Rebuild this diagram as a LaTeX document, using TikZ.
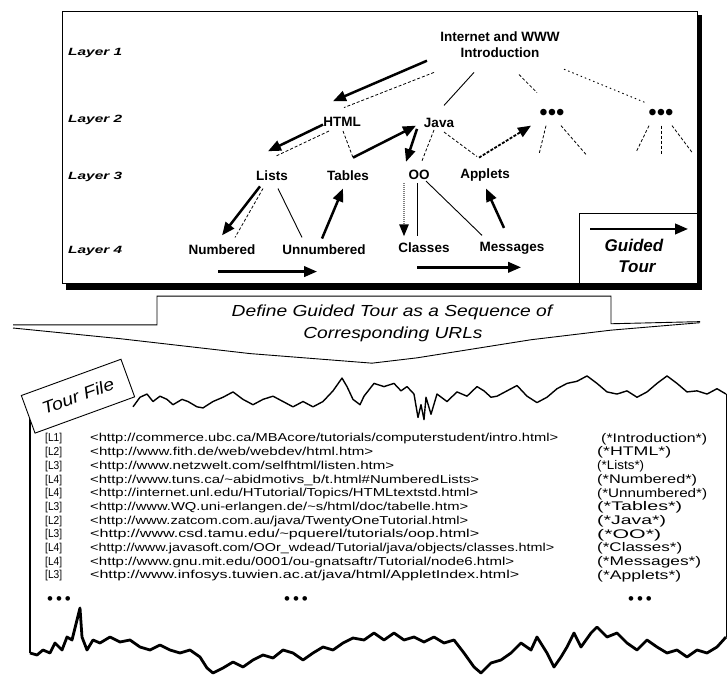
\documentclass[tikz,border=0pt]{standalone}
\usepackage{fontspec}
\setmainfont{Liberation Sans}
\usepackage{graphicx}
\usetikzlibrary{arrows.meta,calc}
\newcommand\tourrow[8]{%
  \node[rowtxt] (l#1) at (45,#2) {\resizebox{17pt}{\height}{[#3]}};
  \node[rowtxt] (u#1) at (90,#2) {\resizebox{#5pt}{\height}{#4}};
  \node[rowtxt, font=\fontsize{12.5}{13}\selectfont] (c#1) at (#8,#2) {\resizebox{#7pt}{\height}{#6}};
}
\begin{document}
\begin{tikzpicture}[x=1pt,y=-1pt,
  lbl/.style={font=\fontsize{13.5}{15}\selectfont\bfseries, inner sep=1pt},
  layerlbl/.style={anchor=west, inner sep=0pt, font=\fontsize{10.5}{12}\selectfont\bfseries\itshape},
  tour/.style={line width=2.5pt, -{Triangle[length=13pt,width=10.5pt]}},
  tree/.style={line width=0.8pt, dash pattern=on 3pt off 2pt},
  treesolid/.style={line width=0.9pt},
  dotline/.style={line width=0.9pt, dash pattern=on 1.5pt off 3pt},
  rowtxt/.style={anchor=west, inner sep=0pt, font=\fontsize{11.5}{12}\selectfont},
  torn/.style={line width=1.4pt, line join=round},
  dotsn/.style={inner sep=0pt, font=\fontsize{24}{24}\selectfont},
  smalldots/.style={inner sep=0pt, font=\fontsize{17}{17}\selectfont}
]
\useasboundingbox (0,0) rectangle (728,685);

\begin{scope}[y=-1.065pt]
% ---------- top box ----------
\fill (696,14) rectangle (702,272);
\fill (66,266) rectangle (702,272);
\draw[line width=0.9pt, fill=white] (62,11) rectangle (697,266);
\draw[line width=0.9pt] (579,200) rectangle (697,266);

\node[layerlbl] (lay1) at (68,50) {\resizebox{54pt}{\height}{Layer 1}};
\node[layerlbl] (lay2) at (68,113) {\resizebox{54pt}{\height}{Layer 2}};
\node[layerlbl] (lay3) at (68,166) {\resizebox{54pt}{\height}{Layer 3}};
\node[layerlbl] (lay4) at (68,236) {\resizebox{54pt}{\height}{Layer 4}};

\node[lbl, align=center, font=\fontsize{13.5}{16}\selectfont\bfseries] (intro) at (500,42) {Internet and WWW\\Introduction};
\node[lbl] (html) at (342,114) {HTML};
\node[lbl] (java) at (439,115) {Java};
\node[dotsn] (d1) at (552,108) {•••};
\node[dotsn] (d2) at (661,108) {•••};
\node[lbl] (lists) at (272,165) {Lists};
\node[lbl] (tables) at (348,165) {Tables};
\node[lbl] (oo) at (419,164) {OO};
\node[lbl] (applets) at (485,164) {Applets};
\node[lbl] (numbered) at (222,234) {Numbered};
\node[lbl] (unnumbered) at (324,234) {Unnumbered};
\node[lbl] (classes) at (424,233) {Classes};
\node[lbl] (messages) at (512,233) {Messages};

% tree edges
\draw[tree] ([shift={(-66,26)}]intro.center) -- ([shift={(2,-13)}]html.center);
\draw[treesolid] ([shift={(-26,26)}]intro.center) -- ([shift={(5,-16)}]java.center);
\draw[tree] ([shift={(19,28)}]intro.center) -- ([shift={(-15,-21)}]d1.center);
\draw[dotline] ([shift={(64,23)}]intro.center) -- ([shift={(-14,-11)}]d2.center);
\draw[tree] ([shift={(-13,9)}]html.center) -- ([shift={(3,-18)}]lists.center);
\draw[tree] ([shift={(1,9)}]html.center) -- ([shift={(5,-17)}]tables.center);
\draw[tree] ([shift={(-5,7)}]java.center) -- ([shift={(3,-13)}]oo.center);
\draw[tree] ([shift={(5,9)}]java.center) -- ([shift={(-8,-17)}]applets.center);
\draw[tree] ([shift={(-9,12)}]lists.center) -- ([shift={(13,-11)}]numbered.center);
\draw[treesolid] ([shift={(6,12)}]lists.center) -- ([shift={(-22,-11)}]unnumbered.center);
\draw[treesolid] ([shift={(-2,8)}]oo.center) -- ([shift={(-7,-11)}]classes.center);
\draw[treesolid] ([shift={(7,6)}]oo.center) -- ([shift={(-30,-12)}]messages.center);
% unexpanded subtrees
\coordinate (d1a) at (539,145);
\coordinate (d1b) at (586,145);
\coordinate (d2a) at (636,143);
\coordinate (d2b) at (661,145);
\coordinate (d2c) at (692,143);
\draw[tree] ([shift={(-6,10)}]d1.center) -- (d1a);
\draw[tree] ([shift={(9,10)}]d1.center) -- (d1b);
\draw[tree] ([shift={(-12,10)}]d2.center) -- (d2a);
\draw[tree] ([shift={(0,10)}]d2.center) -- (d2b);
\draw[tree] ([shift={(11,10)}]d2.center) -- (d2c);

% guided tour arrows
\draw[tour] ([shift={(-73,15)}]intro.center) -- ([shift={(-9,-19)}]html.center);
\draw[tour] ([shift={(-19,3)}]html.center) -- ([shift={(-4,-23)}]lists.center);
\draw[tour] ([shift={(-12,10)}]lists.center) -- ([shift={(0,-13)}]numbered.center);
\draw[tour] ([shift={(-4,21)}]numbered.center) -- ([shift={(-7,21)}]unnumbered.center);
\draw[tour] ([shift={(-2,-10)}]unnumbered.center) -- ([shift={(-5,12)}]tables.center);
\draw[tour] ([shift={(5,-17)}]tables.center) -- ([shift={(-23,3)}]java.center);
\draw[tour] ([shift={(-22,6)}]java.center) -- ([shift={(-13,-12)}]oo.center);
\draw[line width=2.4pt, draw=gray, dash pattern=on 1pt off 1pt, -{Triangle[length=12pt,width=9pt,color=black]}] ([shift={(-15,8)}]oo.center) -- ([shift={(-20,-11)}]classes.center);
\draw[tour] ([shift={(-7,18)}]classes.center) -- ([shift={(9,18)}]messages.center);
\draw[tour] ([shift={(-8,-19)}]messages.center) -- ([shift={(1,13)}]applets.center);
\draw[line width=1.8pt, dash pattern=on 3pt off 1.5pt, -{Triangle[length=13pt,width=10.5pt]}] ([shift={(-6,-16)}]applets.center) -- ([shift={(-21,10)}]d1.center);

% legend
\coordinate (lgA) at (590,215);
\coordinate (lgB) at (688,215);
\draw[tour] (lgA) -- (lgB);
\node[font=\fontsize{17}{19}\selectfont\bfseries\itshape, inner sep=0pt] (guided) at (634,230) {Guided};
\node[font=\fontsize{17}{19}\selectfont\bfseries\itshape, inner sep=0pt] (tourw) at (637,250) {Tour};

% ---------- banner ----------
\draw[line width=0.9pt] (13,305) -- (157,305) -- (157,278) -- (611,278) -- (611,304) -- (700,302);
\draw[line width=0.9pt] (13,308) -- (120,318) -- (250,332) -- (372,341) -- (417,336) -- (464,329) -- (531,319) -- (611,310) -- (700,303);
\node[inner sep=0pt, font=\fontsize{16}{18}\selectfont\itshape] (banA) at (392,293) {\scalebox{1.2}[1]{Define Guided Tour as a Sequence of}};
\node[inner sep=0pt, font=\fontsize{16}{18}\selectfont\itshape] (banB) at (393,314) {\scalebox{1.2}[1]{Corresponding URLs}};

% ---------- tour file top edge ----------
\draw[torn] (133,382) -- (140,373) -- (147,370) -- (153,377) -- (160,372) -- (167,375) -- (173,380) -- (182,375) -- (188,377) -- (197,382) -- (203,383) -- (213,377) -- (223,373) -- (233,368) -- (243,375) -- (253,380) -- (263,375) -- (273,372) -- (283,377) -- (293,382) -- (303,377) -- (313,382) -- (323,377) -- (333,367) -- (342,355) -- (347,363) -- (353,375) -- (360,380) -- (364,372) -- (374,360) -- (384,363) -- (394,360) -- (401,367) -- (407,363) -- (414,370) -- (418,392) -- (421,380) -- (424,394) -- (426,373) -- (431,389) -- (437,370) -- (447,377) -- (457,368) -- (467,372) -- (477,363) -- (484,367) -- (491,373) -- (497,372) -- (507,367) -- (517,362) -- (527,372) -- (537,378) -- (547,373) -- (557,365) -- (567,360) -- (577,358) -- (587,353) -- (597,360) -- (607,368) -- (617,370) -- (627,367) -- (637,373) -- (647,368) -- (657,360) -- (667,353) -- (677,360) -- (687,368) -- (697,367) -- (707,370) -- (717,365) -- (726,370);
\coordinate (rtop) at (726,370);
\coordinate (ltop) at (30,385);
\end{scope}

\draw[line width=1pt] (rtop) -- (726,637);
\draw[line width=1.2pt] (ltop) -- (30,653);
\draw[line width=2.8pt, line join=round] (30,653) -- (37,655) -- (43,650) -- (50,653) -- (55,643) -- (62,650) -- (67,637) -- (72,640) -- (77,620) -- (80,608) -- (82,637) -- (87,650) -- (93,640) -- (100,643) -- (110,637) -- (120,642) -- (130,640) -- (140,647) -- (150,650) -- (160,645) -- (170,650) -- (180,653) -- (190,650) -- (200,657) -- (207,668) -- (213,673) -- (223,668) -- (233,662) -- (243,667) -- (253,660) -- (263,655) -- (273,658) -- (283,650) -- (293,653) -- (303,660) -- (313,653) -- (323,647) -- (333,650) -- (343,643) -- (353,638) -- (364,640) -- (374,633) -- (384,640) -- (394,633) -- (404,640) -- (414,637) -- (424,642) -- (434,637) -- (444,643) -- (454,640) -- (464,653) -- (474,667) -- (481,673) -- (491,663) -- (501,660) -- (511,653) -- (521,643) -- (531,650) -- (537,637) -- (547,653) -- (554,667) -- (561,657) -- (567,647) -- (574,633) -- (581,647) -- (591,633) -- (597,627) -- (607,637) -- (617,633) -- (627,643) -- (637,650) -- (647,640) -- (657,647) -- (667,653) -- (677,650) -- (687,657) -- (697,650) -- (707,653) -- (717,647) -- (726,637);

\begin{scope}[y=-1.065pt]
\node[draw, line width=0.9pt, fill=white, rotate=20, minimum width=106pt, minimum height=40pt, inner sep=0pt, font=\fontsize{17}{19}\selectfont\itshape] (tag) at (78,372) {\scalebox{1.15}[1]{Tour File}};
\end{scope}

\tourrow{1}{439}{L1}{<http://commerce.ubc.ca/MBAcore/tutorials/computerstudent/intro.html>}{468}{(*Introduction*)}{106}{601}
\tourrow{2}{452.7}{L2}{<http://www.fith.de/web/webdev/html.htm>}{283}{(*HTML*)}{74}{597}
\tourrow{3}{466.4}{L3}{<http://www.netzwelt.com/selfhtml/listen.htm>}{304}{(*Lists*)}{47}{597}
\tourrow{4}{480.1}{L4}{<http://www.tuns.ca/\textasciitilde abidmotivs\_b/t.html\#NumberedLists>}{389}{(*Numbered*)}{100}{597}
\tourrow{5}{493.8}{L4}{<http://internet.unl.edu/HTutorial/Topics/HTMLtextstd.html>}{388}{(*Unnumbered*)}{110}{597}
\tourrow{6}{507.5}{L3}{<http://www.WQ.uni-erlangen.de/\textasciitilde s/html/doc/tabelle.htm>}{378}{(*Tables*)}{85}{597}
\tourrow{7}{521.2}{L2}{<http://www.zatcom.com.au/java/TwentyOneTutorial.html>}{378}{(*Java*)}{69}{597}
\tourrow{8}{534.9}{L3}{<http://www.csd.tamu.edu/\textasciitilde pquerel/tutorials/oop.html>}{389}{(*OO*)}{64}{597}
\tourrow{9}{548.6}{L4}{<http://www.javasoft.com/OOr\_wdead/Tutorial/java/objects/classes.html>}{464}{(*Classes*)}{85}{597}
\tourrow{10}{562.3}{L4}{<http://www.gnu.mit.edu/0001/ou-gnatsaftr/Tutorial/node6.html>}{424}{(*Messages*)}{104}{597}
\tourrow{11}{576}{L3}{<http://www.infosys.tuwien.ac.at/java/html/AppletIndex.html>}{429}{(*Applets*)}{84}{597}

\node[smalldots] (e1) at (59,601) {•\hspace{3pt}•\hspace{3pt}•};
\node[smalldots] (e2) at (296,601) {•\hspace{3pt}•\hspace{3pt}•};
\node[smalldots] (e3) at (640,601) {•\hspace{3pt}•\hspace{3pt}•};
\end{tikzpicture}
\end{document}
